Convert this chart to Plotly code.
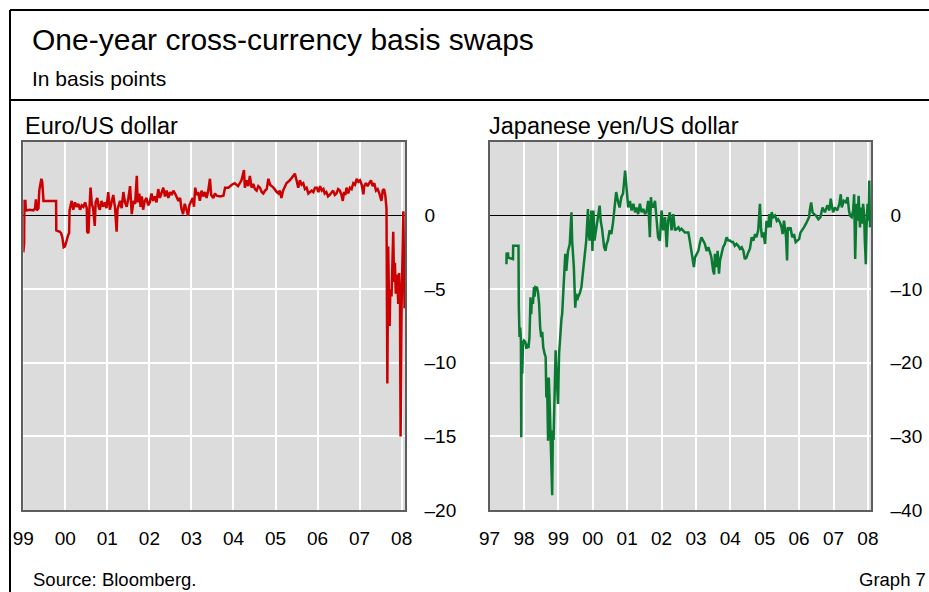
import plotly.graph_objects as go

# ---------------- data (decimal years, basis points) ----------------
eur_years = [
    1999.000, 1999.012, 1999.020, 1999.025, 1999.050, 1999.060, 1999.150, 1999.240, 1999.280, 1999.300,
    1999.320, 1999.360, 1999.380, 1999.410, 1999.430, 1999.450, 1999.470, 1999.480, 1999.780, 1999.785,
    1999.870, 1999.900, 1999.930, 1999.960, 1999.990, 2000.030, 2000.070, 2000.090, 2000.100, 2000.150,
    2000.190, 2000.230, 2000.270, 2000.310, 2000.350, 2000.390, 2000.430, 2000.470, 2000.510, 2000.520,
    2000.550, 2000.570, 2000.600, 2000.630, 2000.660, 2000.700, 2000.720, 2000.760, 2000.790, 2000.820,
    2000.860, 2000.900, 2000.940, 2000.980, 2001.020, 2001.060, 2001.100, 2001.140, 2001.180, 2001.220,
    2001.240, 2001.270, 2001.300, 2001.340, 2001.380, 2001.420, 2001.460, 2001.500, 2001.540, 2001.580,
    2001.620, 2001.660, 2001.700, 2001.720, 2001.760, 2001.790, 2001.820, 2001.850, 2001.890, 2001.930,
    2001.970, 2002.010, 2002.050, 2002.090, 2002.130, 2002.170, 2002.210, 2002.250, 2002.290, 2002.330,
    2002.370, 2002.410, 2002.450, 2002.490, 2002.530, 2002.570, 2002.610, 2002.650, 2002.690, 2002.730,
    2002.760, 2002.800, 2002.840, 2002.880, 2002.920, 2002.950, 2002.980, 2003.030, 2003.060, 2003.090,
    2003.120, 2003.160, 2003.200, 2003.240, 2003.280, 2003.320, 2003.360, 2003.400, 2003.440, 2003.470,
    2003.520, 2003.560, 2003.600, 2003.640, 2003.680, 2003.760, 2003.800, 2003.880, 2003.960, 2004.030,
    2004.110, 2004.190, 2004.250, 2004.270, 2004.310, 2004.350, 2004.390, 2004.430, 2004.470, 2004.510,
    2004.550, 2004.590, 2004.630, 2004.670, 2004.710, 2004.750, 2004.790, 2004.830, 2004.870, 2004.910,
    2004.950, 2005.030, 2005.070, 2005.100, 2005.140, 2005.180, 2005.220, 2005.260, 2005.340, 2005.420,
    2005.460, 2005.500, 2005.540, 2005.580, 2005.620, 2005.660, 2005.700, 2005.740, 2005.780, 2005.820,
    2005.860, 2005.900, 2005.940, 2005.980, 2006.020, 2006.060, 2006.100, 2006.140, 2006.170, 2006.210,
    2006.250, 2006.290, 2006.330, 2006.370, 2006.410, 2006.450, 2006.490, 2006.530, 2006.570, 2006.600,
    2006.630, 2006.660, 2006.690, 2006.730, 2006.770, 2006.810, 2006.850, 2006.890, 2006.930, 2006.970,
    2007.010, 2007.050, 2007.090, 2007.110, 2007.150, 2007.190, 2007.230, 2007.270, 2007.310, 2007.350,
    2007.390, 2007.430, 2007.470, 2007.510, 2007.520, 2007.550, 2007.580, 2007.610, 2007.640, 2007.660,
    2007.680, 2007.700, 2007.715, 2007.730, 2007.760, 2007.800, 2007.820, 2007.840, 2007.860, 2007.890,
    2007.920, 2007.940, 2007.960, 2007.975, 2008.000, 2008.040, 2008.070,
]
eur_values = [
    -2.5, -2.3, -1.9, 1.0, 1.0, 0.35, 0.4, 0.35, 0.5, 1.1,
    0.35, 0.5, 1.7, 2.2, 2.5, 2.3, 1.7, 1.0, 1.0, -1.0,
    -1.1, -1.2, -1.5, -2.15, -2.1, -1.6, -1.3, -1.2, 0.34, 1.0,
    0.4, 0.9, 0.6, 0.8, 0.4, 0.7, 0.6, 0.9, 0.5, -1.1,
    -1.2, 0.3, 1.9, 0.8, 0.5, -0.7, 0.9, 1.2, 0.6, 0.4,
    1.0, 0.6, 0.9, 0.5, 1.6, 0.4, 0.9, 1.4, 0.6, -1.1,
    0.4, 0.8, 1.0, 0.5, 1.6, 0.9, 0.6, 1.2, 2.0, 0.1,
    1.0, 0.8, 2.7, 0.9, 1.5, 0.6, 1.3, 0.4, 1.0, 1.2,
    0.7, 0.9, 1.5, 1.0, 1.3, 0.9, 1.8, 1.2, 1.5, 1.9,
    1.3, 1.7, 1.2, 1.6, 1.4, 1.7, 1.5, 1.3, 1.0, 1.2,
    0.5, 0.1, 0.8, 0.4, 0.0, 0.7, 0.9, 1.2, 0.6, 1.9,
    1.4, 1.6, 1.0, 1.7, 1.3, 1.6, 1.2, 1.7, 2.5, 1.4,
    1.2, 1.5, 1.35, 1.3, 1.3, 1.35, 1.9, 1.9, 2.1, 2.2,
    2.0, 2.4, 3.1, 1.9, 2.4, 2.0, 2.7, 1.9, 2.15, 1.8,
    1.7, 2.0, 1.9, 1.6, 1.5, 1.7, 1.8, 2.5, 2.1, 2.0,
    1.9, 1.6, 1.5, 1.7, 1.2, 1.7, 2.0, 2.2, 2.4, 2.7,
    2.85, 2.4, 1.9, 2.4, 2.1, 2.2, 1.8, 1.9, 1.5, 1.6,
    1.7, 1.6, 1.9, 1.9, 1.6, 2.0, 1.7, 1.8, 1.5, 1.6,
    1.3, 1.4, 1.6, 1.7, 1.4, 1.5, 1.8, 1.7, 1.4, 1.0,
    1.6, 1.4, 1.9, 1.5, 1.9, 1.8, 2.2, 2.1, 2.5, 2.3,
    2.4, 2.1, 1.45, 2.0, 2.2, 2.0, 2.2, 2.4, 2.0, 2.2,
    1.7, 1.8, 1.5, 1.2, 1.0, 1.7, 1.8, 1.4, 0.5, -11.4,
    -2.1, -6.0, -7.5, -5.0, -5.5, -1.1, -4.5, -3.2, -5.3, -4.0,
    -6.0, -3.9, -5.5, -15.0, -6.0, 0.3, -6.3,
]

jpy_years = [
    1997.490, 1997.495, 1997.500, 1997.530, 1997.535, 1997.540, 1997.600, 1997.680, 1997.685, 1997.780,
    1997.840, 1997.850, 1997.870, 1997.890, 1997.910, 1997.920, 1997.930, 1997.950, 1997.970, 1998.000,
    1998.040, 1998.070, 1998.100, 1998.130, 1998.160, 1998.190, 1998.210, 1998.230, 1998.260, 1998.290,
    1998.310, 1998.330, 1998.380, 1998.410, 1998.440, 1998.470, 1998.500, 1998.530, 1998.560, 1998.600,
    1998.630, 1998.650, 1998.670, 1998.700, 1998.720, 1998.750, 1998.770, 1998.790, 1998.820, 1998.840,
    1998.860, 1998.870, 1998.890, 1998.920, 1998.940, 1998.960, 1998.990, 1999.020, 1999.060, 1999.090,
    1999.110, 1999.160, 1999.200, 1999.230, 1999.260, 1999.280, 1999.330, 1999.360, 1999.380, 1999.400,
    1999.420, 1999.450, 1999.490, 1999.520, 1999.550, 1999.570, 1999.620, 1999.670, 1999.710, 1999.760,
    1999.810, 1999.860, 1999.880, 1999.910, 1999.960, 1999.990, 2000.020, 2000.050, 2000.100, 2000.150,
    2000.200, 2000.230, 2000.270, 2000.330, 2000.370, 2000.400, 2000.440, 2000.490, 2000.540, 2000.590,
    2000.630, 2000.680, 2000.730, 2000.780, 2000.830, 2000.880, 2000.940, 2000.960, 2001.000, 2001.030,
    2001.080, 2001.130, 2001.180, 2001.230, 2001.270, 2001.320, 2001.370, 2001.420, 2001.470, 2001.520,
    2001.570, 2001.610, 2001.660, 2001.690, 2001.710, 2001.760, 2001.810, 2001.860, 2001.900, 2001.950,
    2002.000, 2002.050, 2002.100, 2002.150, 2002.190, 2002.240, 2002.290, 2002.340, 2002.390, 2002.440,
    2002.490, 2002.530, 2002.580, 2002.680, 2002.780, 2002.820, 2002.870, 2002.920, 2002.940, 2002.970,
    2003.020, 2003.070, 2003.120, 2003.160, 2003.210, 2003.260, 2003.310, 2003.360, 2003.410, 2003.450,
    2003.500, 2003.530, 2003.550, 2003.600, 2003.630, 2003.670, 2003.700, 2003.750, 2003.790, 2003.840,
    2003.890, 2003.940, 2003.990, 2004.040, 2004.080, 2004.130, 2004.180, 2004.230, 2004.280, 2004.330,
    2004.380, 2004.420, 2004.470, 2004.520, 2004.570, 2004.620, 2004.670, 2004.720, 2004.760, 2004.810,
    2004.860, 2004.890, 2004.920, 2004.960, 2005.010, 2005.050, 2005.100, 2005.130, 2005.170, 2005.200,
    2005.250, 2005.300, 2005.350, 2005.390, 2005.440, 2005.490, 2005.520, 2005.560, 2005.590, 2005.620,
    2005.650, 2005.670, 2005.710, 2005.750, 2005.800, 2005.850, 2005.900, 2005.950, 2006.000, 2006.040,
    2006.090, 2006.140, 2006.200, 2006.240, 2006.290, 2006.310, 2006.350, 2006.390, 2006.430, 2006.490,
    2006.560, 2006.620, 2006.680, 2006.750, 2006.820, 2006.880, 2006.920, 2006.960, 2006.990, 2007.040,
    2007.110, 2007.170, 2007.210, 2007.240, 2007.300, 2007.360, 2007.410, 2007.450, 2007.480, 2007.530,
    2007.570, 2007.600, 2007.630, 2007.670, 2007.700, 2007.730, 2007.770, 2007.800, 2007.830, 2007.860,
    2007.890, 2007.910, 2007.940, 2007.960, 2007.990, 2008.020, 2008.040, 2008.060,
]
jpy_values = [
    -6.6, -5.0, -5.7, -5.7, -5.0, -5.7, -5.8, -5.9, -4.1, -4.1,
    -4.1, -12.5, -16.5, -15.2, -17.0, -30.1, -17.0, -21.5, -17.4, -17.0,
    -17.2, -18.1, -17.4, -18.0, -16.5, -11.1, -13.4, -11.5, -12.0, -9.7,
    -11.0, -9.7, -9.8, -10.5, -12.0, -15.2, -16.5, -15.8, -17.9, -18.8,
    -19.2, -24.7, -22.0, -30.6, -22.0, -26.0, -30.0, -35.1, -38.0, -29.2,
    -30.5, -28.3, -22.4, -18.3, -21.0, -24.2, -25.6, -18.8, -15.2, -14.0,
    -13.4, -8.4, -5.2, -7.5, -5.5, -4.8, -3.9, -2.0, 0.45, -3.4,
    -4.8, -7.0, -12.5, -10.6, -11.5, -11.1, -10.6, -9.7, -7.9, -5.7,
    -3.4, 0.9, -2.5, -3.4, 0.7, -4.8, 0.7, -3.4, -2.0, -0.2,
    1.36, -0.7, -1.8, -4.3, -4.8, -3.9, -3.4, -2.0, -2.5, -0.9,
    0.9, 3.2, 2.0, 1.1, 2.5, 3.0, 6.1, 4.75, 2.5, 1.1,
    2.0, 0.7, 1.6, 0.45, 1.1, 0.2, 1.6, 0.45, 0.9, 0.2,
    0.7, 2.0, -2.95, 2.5, 1.6, 1.1, 2.0, -0.5, -2.95, -3.4,
    0.7, -2.0, -0.2, -4.3, -0.7, 0.45, -2.0, 0.2, -2.0, -1.8,
    -1.6, -2.0, -1.8, -2.3, -2.3, -3.4, -4.8, -6.1, -7.0, -5.7,
    -5.2, -4.8, -3.6, -2.95, -3.4, -3.85, -4.8, -4.3, -5.0, -5.7,
    -7.5, -8.0, -5.2, -7.0, -4.8, -7.9, -6.1, -4.8, -4.3, -3.85,
    -2.95, -3.4, -3.4, -3.6, -3.6, -4.1, -3.85, -4.1, -4.5, -4.3,
    -4.8, -5.9, -5.7, -5.0, -4.5, -2.95, -3.4, -2.5, -2.95, -2.0,
    1.6, -1.6, -2.95, -2.3, -3.85, -0.7, -1.6, 0.2, -1.6, 0.45,
    -0.2, 0.0, -0.7, -0.5, -0.9, -1.6, -2.5, -0.7, -1.6, -2.95,
    -6.1, -1.6, -2.0, -1.6, -2.95, -2.5, -3.6, -3.4, -3.2, -2.3,
    -2.0, -1.6, -1.1, -0.7, -0.2, 0.7, 1.8, 0.45, 0.2, 0.0,
    -0.5, -0.2, 1.1, 0.45, 1.4, 0.7, 2.3, 1.1, 0.45, 1.1,
    0.7, 1.6, 2.9, 1.1, 2.0, 1.8, 2.5, 0.7, 0.0, -0.2,
    0.7, 2.9, -5.9, 1.6, -0.7, 2.7, -1.6, 1.1, -1.1, 1.6,
    0.2, -3.4, -6.6, -1.6, 1.6, -0.7, 4.75, -1.6,
]

eur_ticks = [1999, 2000, 2001, 2002, 2003, 2004, 2005, 2006, 2007, 2008]
eur_ticktext = ["99", "00", "01", "02", "03", "04", "05", "06", "07", "08"]
jpy_ticks = [1997, 1998, 1999, 2000, 2001, 2002, 2003, 2004, 2005, 2006, 2007, 2008]
jpy_ticktext = ["97", "98", "99", "00", "01", "02", "03", "04", "05", "06", "07", "08"]
eur_yticks = [0, -5, -10, -15, -20]
eur_yticktext = ["0", "\u20135", "\u201310", "\u201315", "\u201320"]
jpy_yticks = [0, -10, -20, -30, -40]
jpy_yticktext = ["0", "\u201310", "\u201320", "\u201330", "\u201340"]

# ---------------- figure ----------------
W, H = 929, 592
FONT = "Liberation Sans, Arial, sans-serif"
RED = "#cc0000"
GREEN = "#0a7a32"
BG = "#dcdcdc"


def fx(p):
    return p / W


def fy(p):
    return 1 - p / H


fig = go.Figure()
fig.add_trace(go.Scatter(x=eur_years, y=eur_values, mode="lines",
                         line=dict(color=RED, width=2.5), xaxis="x", yaxis="y",
                         showlegend=False, hoverinfo="skip"))
fig.add_trace(go.Scatter(x=jpy_years, y=jpy_values, mode="lines",
                         line=dict(color=GREEN, width=2.5), xaxis="x2", yaxis="y2",
                         showlegend=False, hoverinfo="skip"))

common_x = dict(showgrid=True, gridcolor="white", gridwidth=1.5, zeroline=False,
                showline=True, mirror=True, linecolor="#5e5e5e", linewidth=1.5,
                ticks="", ticklabelstandoff=10, automargin=False,
                tickfont=dict(family=FONT, size=19, color="black"))
common_y = dict(showgrid=True, gridcolor="white", gridwidth=1.5,
                zeroline=True, zerolinecolor="black", zerolinewidth=1,
                showline=True, mirror=True, linecolor="#5e5e5e", linewidth=1.5,
                ticks="", side="right", ticklabelstandoff=14, automargin=False,
                tickfont=dict(family=FONT, size=19, color="black"))

ydom = [fy(510), fy(142)]
fig.update_layout(
    width=W, height=H, autosize=False,
    margin=dict(l=0, r=0, t=0, b=0),
    paper_bgcolor="white", plot_bgcolor=BG,
    font=dict(family=FONT, color="black"),
    xaxis=dict(domain=[fx(23.3), fx(405)], range=[1999, 2008.08], anchor="y",
               tickmode="array", tickvals=eur_ticks, ticktext=eur_ticktext, **common_x),
    yaxis=dict(domain=ydom, range=[-20, 5], anchor="x",
               tickmode="array", tickvals=eur_yticks, ticktext=eur_yticktext, **common_y),
    xaxis2=dict(domain=[fx(489.6), fx(871)], range=[1997, 2008.09], anchor="y2",
                tickmode="array", tickvals=jpy_ticks, ticktext=jpy_ticktext, **common_x),
    yaxis2=dict(domain=ydom, range=[-40, 10], anchor="x2",
                tickmode="array", tickvals=jpy_yticks, ticktext=jpy_yticktext, **common_y),
)

# frame lines
line_style = dict(color="black", width=2)
fig.add_shape(type="line", xref="paper", yref="paper", x0=fx(10), x1=1, y0=fy(10), y1=fy(10), line=line_style)
fig.add_shape(type="line", xref="paper", yref="paper", x0=fx(10), x1=1, y0=fy(100), y1=fy(100), line=line_style)
fig.add_shape(type="line", xref="paper", yref="paper", x0=fx(10), x1=fx(10), y0=fy(10), y1=0, line=line_style)


def label(text, x, y, size, anchor="left"):
    fig.add_annotation(text=text, xref="paper", yref="paper", x=fx(x), y=fy(y),
                       xanchor=anchor, yanchor="middle", showarrow=False,
                       font=dict(family=FONT, size=size, color="black"))


label("One-year cross-currency basis swaps", 30, 40, 30)
label("In basis points", 30, 78, 21)
label("Euro/US dollar", 23, 126, 23.5)
label("Japanese yen/US dollar", 487, 126, 23.5)
label("Source: Bloomberg.", 31, 579, 18.5)
label("Graph 7", 928, 579, 18.5, anchor="right")

fig.write_html("out.html",
               config={"displayModeBar": False},
               post_script="document.body.style.margin='0px';document.body.style.overflow='hidden';")
